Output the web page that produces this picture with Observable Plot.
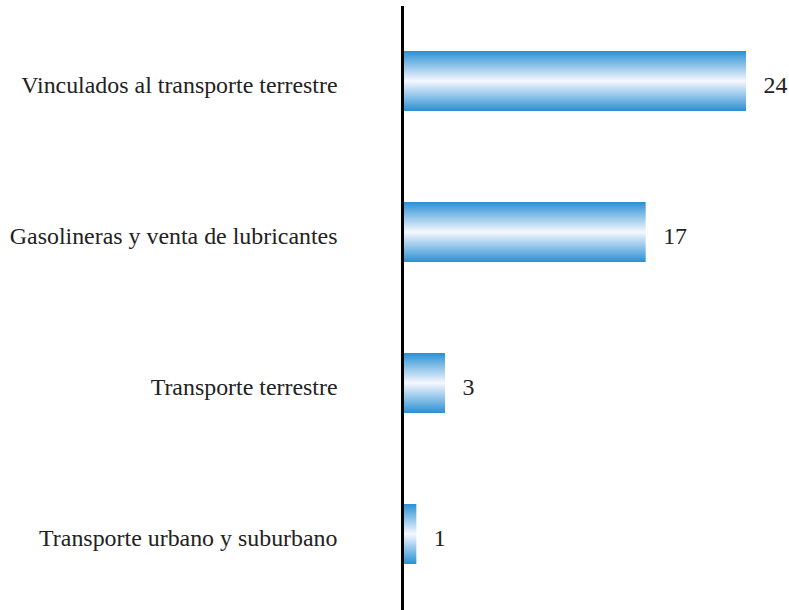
<!DOCTYPE html>
<html>
<head>
<meta charset="utf-8">
<script src="https://cdn.jsdelivr.net/npm/d3@7"></script>
<script src="https://cdn.jsdelivr.net/npm/@observablehq/plot@0.6"></script>
<style>
  html, body { margin: 0; padding: 0; background: #fff; }
  #chart svg { display: block; }
</style>
</head>
<body>
<div id="chart"></div>
<script>
const categories = [
  "Vinculados al transporte terrestre",
  "Gasolineras y venta de lubricantes",
  "Transporte terrestre",
  "Transporte urbano y suburbano"
];
const values = [24, 17, 3, 1];

const data = categories.map((c, i) => ({category: c, value: values[i]}));

const defs = () => {
  const g = d3.create("svg:defs");
  const lg = g.append("linearGradient")
    .attr("id", "barGrad")
    .attr("x1", 0).attr("y1", 0).attr("x2", 0).attr("y2", 1);
  lg.append("stop").attr("offset", "0%").attr("stop-color", "#2a90d4");
  lg.append("stop").attr("offset", "50%").attr("stop-color", "#f6f8ff");
  lg.append("stop").attr("offset", "100%").attr("stop-color", "#2a90d4");
  return g.node();
};

const chart = Plot.plot({
  width: 789,
  height: 610,
  marginLeft: 402,
  marginRight: 43,
  marginTop: 6,
  marginBottom: 0,
  x: {domain: [0, 24], axis: null},
  y: {domain: categories, paddingInner: 0.6, paddingOuter: 0.3, axis: null},
  style: {fontFamily: "'Liberation Serif', 'Times New Roman', serif", background: "#fff"},
  marks: [
    defs,
    Plot.barX(data, {y: "category", x: "value", fill: "url(#barGrad)", insetLeft: 1.5}),
    Plot.ruleX([0], {stroke: "#000", strokeWidth: 3}),
    Plot.text(data, {y: "category", x: 0, text: "category", textAnchor: "end", dx: -65, dy: 4, fontSize: 23.9, fill: "#222"}),
    Plot.text(data, {y: "category", x: "value", text: d => String(d.value), textAnchor: "start", dx: 17, dy: 4, fontSize: 23.9, fill: "#222"})
  ]
});
document.getElementById("chart").appendChild(chart);
</script>
</body>
</html>
